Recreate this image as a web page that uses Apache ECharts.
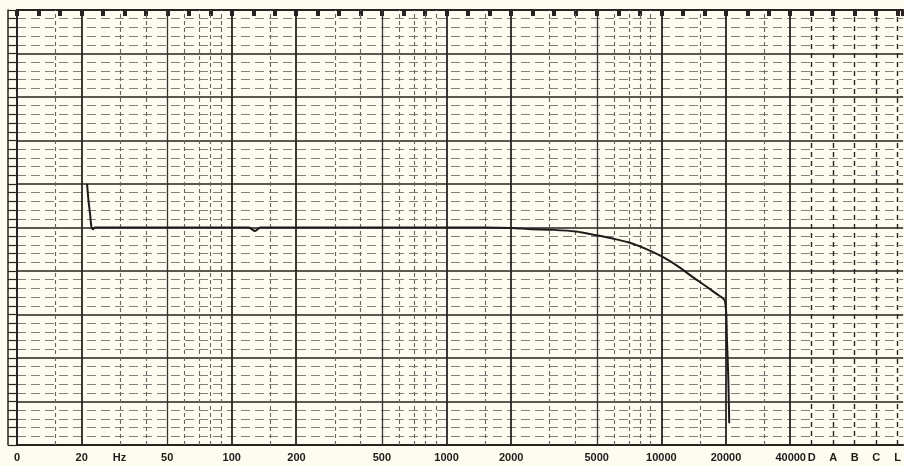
<!DOCTYPE html>
<html>
<head>
<meta charset="utf-8">
<script src="https://cdn.jsdelivr.net/npm/echarts@6/dist/echarts.min.js"></script>
<style>
html, body { margin: 0; padding: 0; background: #fcfcf0; }
#chart { width: 904px; height: 466px; }
</style>
</head>
<body>
<div id="chart"></div>
<script>
// response curve (Hz, level in paper units 0..50)
const curveFreq = [21.2, 21.5, 21.9, 22.2, 22.6, 23.0, 60, 120, 124, 128, 132, 136,
  500, 1500, 2000, 2500, 3000, 4000, 5000, 6000, 7000, 8000, 10000, 12000,
  14000, 16000, 18000, 19800, 20200, 20500, 20700]
const curveLevel = [30.0, 28.2, 26.5, 25.1, 24.8, 25.0, 25.0, 25.0, 24.8, 24.6, 24.8, 25.0,
  25.0, 25.0, 24.95, 24.8, 24.75, 24.55, 24.1, 23.7, 23.3, 22.8, 21.7, 20.5,
  19.3, 18.3, 17.4, 16.5, 12.1, 7.5, 2.5]

// vertical paper lines (Hz)
const heavyLines = [20, 100, 200, 1000, 2000, 10000, 20000, 40000]
const mediumLines = [50, 500, 5000]
const lightLines = [15, 30, 40, 60, 70, 80, 90, 150, 300, 400, 600, 700, 800, 900,
  1500, 3000, 4000, 6000, 7000, 8000, 9000, 15000, 30000]

// frequency tick labels
const freqTicks = [10, 20, 30, 50, 100, 200, 500, 1000, 2000, 5000, 10000, 20000, 40000]
const freqTickText = ['0', '20', 'Hz', '50', '100', '200', '500', '1000', '2000', '5000', '10000', '20000', '40000']

// weighting filter positions (decades on the paper) and names
const filterPos = [4.7, 4.8, 4.9, 5.0, 5.1]
const filterText = ['D', 'A', 'B', 'C', 'L']

const ink = '#2a2222'
const lg = Math.log10

const labelMap = {}
freqTicks.forEach((f, i) => { labelMap[lg(f).toFixed(4)] = freqTickText[i] })
filterPos.forEach((p, i) => { labelMap[p.toFixed(4)] = filterText[i] })

const vLines = []
heavyLines.forEach(f => vLines.push({ xAxis: lg(f), lineStyle: { color: ink, width: 1.8, type: 'solid' } }))
mediumLines.forEach(f => vLines.push({ xAxis: lg(f), lineStyle: { color: '#3a3232', width: 1.3, type: 'solid' } }))
lightLines.forEach(f => vLines.push({ xAxis: lg(f), lineStyle: { color: '#6a6262', width: 1.1, type: [4, 3] } }))
filterPos.forEach(p => vLines.push({ xAxis: p, lineStyle: { color: ink, width: 1.4, type: [5, 4] } }))

const myChart = echarts.init(document.getElementById('chart'))
myChart.setOption({
  backgroundColor: '#fcfcf0',
  animation: false,
  grid: { left: 17, right: 0, top: 10, bottom: 21 },
  xAxis: [
    {
      type: 'value',
      position: 'bottom',
      min: 1,
      max: 5.1256,
      axisLine: { show: true, onZero: false, lineStyle: { color: ink, width: 2 } },
      axisTick: { show: false },
      splitLine: { show: false },
      axisLabel: {
        customValues: freqTicks.map(lg).concat(filterPos),
        formatter: v => labelMap[v.toFixed(4)] || '',
        color: '#1e1a1a',
        fontFamily: 'Liberation Sans',
        fontWeight: 'bold',
        fontSize: 11,
        margin: 7,
        showMinLabel: true,
        showMaxLabel: true
      }
    },
    {
      type: 'value',
      position: 'top',
      min: 1,
      max: 5.1256,
      interval: 0.1,
      axisLine: { show: true, onZero: false, lineStyle: { color: ink, width: 2 } },
      axisTick: { show: true, inside: true, length: 6, lineStyle: { color: ink, width: 4 } },
      axisLabel: { show: false },
      splitLine: { show: false }
    }
  ],
  yAxis: [
    {
      type: 'value',
      min: 0,
      max: 50,
      interval: 5,
      axisLine: { show: true, onZero: false, lineStyle: { color: ink, width: 2 } },
      axisTick: { show: false },
      axisLabel: { show: false },
      splitLine: { show: true, lineStyle: { color: ink, width: 1.6 } },
      minorTick: { show: false, splitNumber: 5 },
      minorSplitLine: { show: true, lineStyle: { color: '#858080', width: 1, type: [9, 5] } }
    },
    {
      type: 'value',
      position: 'left',
      offset: 9,
      min: 0,
      max: 50,
      interval: 1,
      axisLine: { show: true, onZero: false, lineStyle: { color: ink, width: 1.5 } },
      axisTick: { show: true, inside: true, length: 9, lineStyle: { color: ink, width: 1.2 } },
      axisLabel: { show: false },
      splitLine: { show: false }
    }
  ],
  series: [
    {
      type: 'line',
      data: curveFreq.map((f, i) => [lg(f), curveLevel[i]]),
      showSymbol: false,
      smooth: 0.3,
      lineStyle: { color: '#1e1a1a', width: 2 },
      markLine: {
        silent: true,
        symbol: 'none',
        label: { show: false },
        data: vLines
      },
      z: 5
    }
  ]
})
</script>
</body>
</html>
